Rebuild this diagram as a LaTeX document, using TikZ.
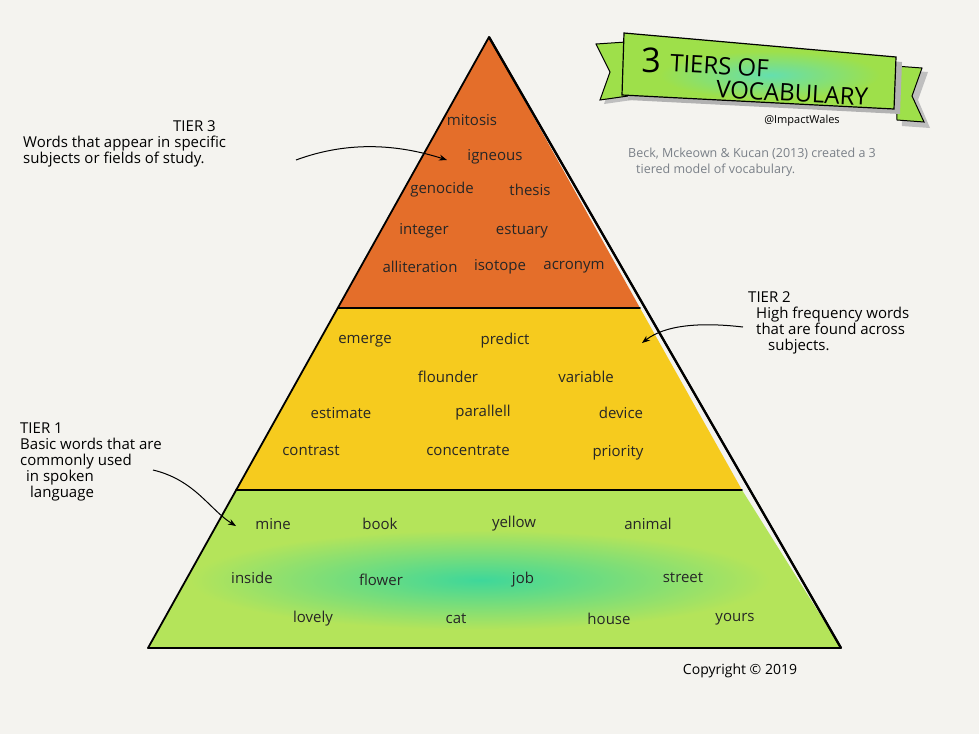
\documentclass[tikz,border=0pt]{standalone}
\usepackage{fontspec}
\setmainfont{Open Sans}
\usetikzlibrary{arrows.meta}
\definecolor{bg}{HTML}{F4F3EF}
\definecolor{torange}{HTML}{E46E2A}
\definecolor{tyellow}{HTML}{F6CB1E}
\definecolor{tgreen}{HTML}{B4E45A}
\definecolor{tteal}{HTML}{3ED79A}
\definecolor{bgreen}{HTML}{9EE04A}
\definecolor{gtext}{HTML}{7A8088}
\begin{document}
\begin{tikzpicture}[x=1pt,y=-1pt,
  w/.style={font=\fontsize{15}{17}\selectfont,text=black!85},
  ann/.style={font=\fontsize{15}{16}\selectfont,align=left,anchor=north west,inner sep=0pt},
  arr/.style={line width=1pt,-{Stealth[length=8pt]}},
  edge/.style={line width=1.8pt,line cap=round,black}]
\fill[bg] (0,0) rectangle (979,734);
\useasboundingbox (0,0) rectangle (979,734);
% tiers
\fill[torange] (489,37) -- (338,308) -- (640,308) -- cycle;
\fill[tyellow] (338,308) -- (236,490) -- (742,490) -- (640,308) -- cycle;
\fill[tgreen] (236,490) -- (148,648) -- (841,648) -- (742,490) -- cycle;
\begin{scope}
\clip (236,490) -- (148,648) -- (841,648) -- (742,490) -- cycle;
\shade[inner color=tteal,outer color=tgreen] (480,580) ellipse (290 and 50);
\end{scope}
\coordinate (apex) at (489,37);
\coordinate (bl) at (148,648);
\coordinate (br) at (841,648);
\draw[edge] (apex) -- (bl);
\draw[edge] (bl) -- (br);
\draw[edge] (apex) -- (br);
\fill[black] (488,37.6) -- (490,36.4) -- (842,647.4) -- (840,648.6) -- cycle;
\draw[edge] (338,308) -- (640,308);
\draw[edge] (236,490) -- (742,490);
% tier 3 words
\node[w] (t3a) at (472,120) {mitosis};
\node[w] (t3b) at (495,157) {igneous};
\node[w] (t3c) at (442,190) {genocide};
\node[w] (t3d) at (530,190) {thesis};
\node[w] (t3e) at (424,231) {integer};
\node[w] (t3f) at (522,231) {estuary};
\node[w] (t3g) at (420,267) {alliteration};
\node[w] (t3h) at (500,267) {isotope};
\node[w] (t3i) at (574,267) {acronym};
% tier 2 words
\node[w] (t2a) at (365,341) {emerge};
\node[w] (t2b) at (505,341) {predict};
\node[w] (t2c) at (448,377) {flounder};
\node[w] (t2d) at (586,377) {variable};
\node[w] (t2e) at (341,413) {estimate};
\node[w] (t2f) at (483,413) {parallell};
\node[w] (t2g) at (621,413) {device};
\node[w] (t2h) at (311,451) {contrast};
\node[w] (t2i) at (468,451) {concentrate};
\node[w] (t2j) at (618,453) {priority};
% tier 1 words
\node[w] (t1a) at (273,524) {mine};
\node[w] (t1b) at (380,524) {book};
\node[w] (t1c) at (514,524) {yellow};
\node[w] (t1d) at (648,524) {animal};
\node[w] (t1e) at (252,578) {inside};
\node[w] (t1f) at (381,580) {flower};
\node[w] (t1g) at (523,580) {job};
\node[w] (t1h) at (683,578) {street};
\node[w] (t1i) at (313,619) {lovely};
\node[w] (t1j) at (456,619) {cat};
\node[w] (t1k) at (609,619) {house};
\node[w] (t1l) at (735,619) {yours};
% annotations
\node[ann] (a3) at (23,120) {\hspace*{150pt}TIER 3\\Words that appear in specific\\subjects or fields of study.};
\coordinate (a3s) at (296,160);
\coordinate (a3e) at (447,160);
\draw[arr] (a3s) .. controls (350,140) and (400,145) .. (a3e);
\node[ann] (a2) at (748,291) {TIER 2\\\hspace*{8pt}High frequency words\\\hspace*{8pt}that are found across\\\hspace*{20pt}subjects.};
\coordinate (a2s) at (743,327);
\coordinate (a2e) at (642,343);
\draw[arr] (a2s) .. controls (700,322) and (665,325) .. (a2e);
\node[ann] (a1) at (20,423) {TIER 1\\Basic words that are\\commonly used\\\hspace*{6pt}in spoken\\\hspace*{10pt}language};
\coordinate (a1s) at (153,470);
\coordinate (a1e) at (236,526);
\draw[arr] (a1s) .. controls (195,480) and (210,510) .. (a1e);
% banner
\fill[black!25] (602,48) -- (630,46) -- (632,100) -- (604,104) -- (614,76) -- cycle;
\fill[bgreen] (596,44) -- (626,42) -- (628,96) -- (600,100) -- (610,72) -- cycle;
\draw[line width=1pt] (596,44) -- (626,42) -- (628,96) -- (600,100) -- (610,72) -- cycle;
\fill[black!25] (900,70) -- (928,72) -- (918,100) -- (930,128) -- (902,126) -- cycle;
\fill[bgreen] (895,66) -- (922,68) -- (912,96) -- (924,122) -- (897,120) -- cycle;
\draw[line width=1pt] (895,66) -- (922,68) -- (912,96) -- (924,122) -- (897,120) -- cycle;
\fill[black!30] (630,38) -- (902,62) -- (900,114) -- (628,100) -- cycle;
\fill[bgreen] (624,33) -- (896,57) -- (894,109) -- (622,95) -- cycle;
\begin{scope}
\clip (624,33) -- (896,57) -- (894,109) -- (622,95) -- cycle;
\shade[inner color=tteal!80,outer color=bgreen] (770,75) ellipse (110 and 24);
\end{scope}
\draw[line width=1.2pt] (624,33) -- (896,57) -- (894,109) -- (622,95) -- cycle;
\node[font=\fontsize{34}{34}\selectfont,inner sep=0pt] (b3) at (651,60) {3};
\node[font=\fontsize{24}{24}\selectfont,anchor=west,inner sep=0pt,rotate=-3] (b1) at (670,63) {TIERS OF};
\node[font=\fontsize{24}{24}\selectfont,anchor=west,inner sep=0pt,rotate=-3] (b2) at (716,89) {VOCABULARY};
\node[font=\fontsize{11}{12}\selectfont,inner sep=0pt] (h) at (802,121) {@ImpactWales};
\node[ann,text=gtext,font=\fontsize{12.5}{16}\selectfont] (cite) at (628,148) {Beck, Mckeown \& Kucan (2013) created a 3\\\hspace*{8pt}tiered model of vocabulary.};
\node[font=\fontsize{14}{16}\selectfont] (copy) at (740,671) {Copyright \textcopyright{} 2019};
\end{tikzpicture}
\end{document}
